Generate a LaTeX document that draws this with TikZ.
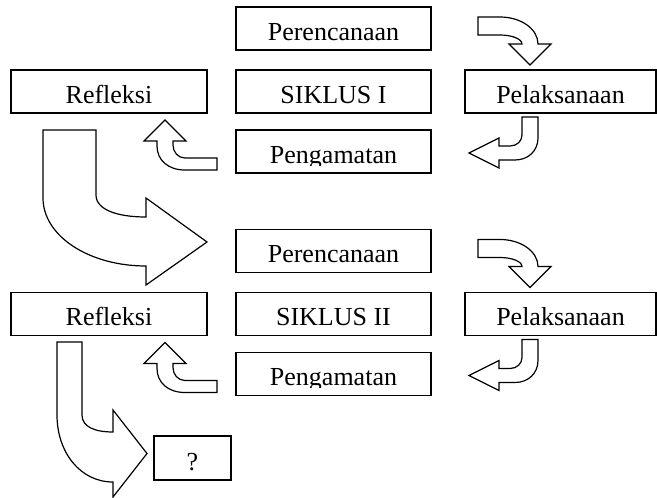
\documentclass[tikz,border=0pt]{standalone}
\usepackage{fontspec}
\setmainfont{Liberation Serif}
\newcommand\lbltxt[5]{\begin{scope}\clip ({#2-100},{#3-35}) rectangle ({#2+100},{#3+#4});\node[lbl] (#1) at (#2,#3) {#5};\end{scope}}
\begin{document}
\begin{tikzpicture}[x=1pt,y=-1pt,
  box/.style={draw, line width=1.6pt, inner sep=0pt, minimum height=43pt},
  wbox/.style={box, minimum width=195pt},
  blockarrow/.style={draw, line width=1.2pt, fill=white, line join=miter},
  lbl/.style={anchor=base, inner sep=0pt, font=\fontsize{26}{31}\selectfont}]
\useasboundingbox (0,0) rectangle (657,498);
% cycle I boxes
\node[wbox] (p1) at (333.5,28.5) {};
\node[box, minimum width=196pt] (r1) at (109,91.5) {};
\node[wbox] (s1) at (333.5,91.5) {};
\node[box, minimum width=191pt] (l1) at (560.5,91.5) {};
\node[wbox] (g1) at (333.5,151.5) {};
% cycle II boxes
\node[wbox] (p2) at (333.5,251) {};
\node[box, minimum width=196pt] (r2) at (109,314) {};
\node[wbox] (s2) at (333.5,314) {};
\node[box, minimum width=191pt] (l2) at (560.5,314) {};
\node[wbox] (g2) at (333.5,374) {};
\node[box, minimum width=77pt, minimum height=44pt] (q) at (192.5,458) {};
% labels
\lbltxt{tp1}{333.5}{40}{3}{Perencanaan}
\lbltxt{tr1}{109}{103}{3}{Refleksi}
\lbltxt{ts1}{333.5}{103}{3}{SIKLUS I}
\lbltxt{tl1}{560.5}{103}{3}{Pelaksanaan}
\lbltxt{tg1}{333.5}{163}{2}{Pengamatan}
\lbltxt{tp2}{333.5}{262.5}{3}{Perencanaan}
\lbltxt{tr2}{109}{325.5}{1}{Refleksi}
\lbltxt{ts2}{333.5}{325.5}{1}{SIKLUS II}
\lbltxt{tl2}{560.5}{325.5}{1.5}{Pelaksanaan}
\lbltxt{tg2}{333.5}{385.5}{2}{Pengamatan}
\lbltxt{tq}{192.5}{470}{4}{?}
% small block arrows of each cycle
\foreach \dy in {0,222.5}{
\begin{scope}[shift={(0,\dy)}]
\draw[blockarrow] (478,17) -- (500,17) .. controls (521,17) and (538,29) .. (538,44)
  -- (551,44) -- (530,65) -- (509,44) -- (522,44) .. controls (522,39) and (512,35) .. (500,35)
  -- (478,35) -- cycle;
\draw[blockarrow] (522,117) -- (538,117) -- (538,138) .. controls (538,151) and (528,160) .. (515,160)
  -- (499,160) -- (499,168) -- (469,153) -- (499,138) -- (499,146) -- (510,146)
  .. controls (517,146) and (522,141) .. (522,135) -- cycle;
\draw[blockarrow] (217,158) -- (185,158) .. controls (178,158) and (173,152) .. (173,145)
  -- (173,141) -- (186,141) -- (165,120) -- (144,141) -- (157,141) -- (157,146)
  .. controls (157,160) and (168,170) .. (185,170) -- (217,170) -- cycle;
\end{scope}}
% large block arrows
\draw[blockarrow] (43,130) -- (96,130) -- (96,195) .. controls (96,210) and (118,217) .. (146,217)
  -- (146,198) -- (207,242) -- (146,285) -- (146,266) .. controls (89,266) and (43,236) .. (43,198) -- cycle;
\draw[blockarrow] (57,342) -- (82,342) -- (82,415) .. controls (82,427) and (95,432) .. (113,432)
  -- (113,410) -- (147,453.5) -- (113,497) -- (113,482) .. controls (80,482) and (57,452) .. (57,415) -- cycle;
\end{tikzpicture}
\end{document}
